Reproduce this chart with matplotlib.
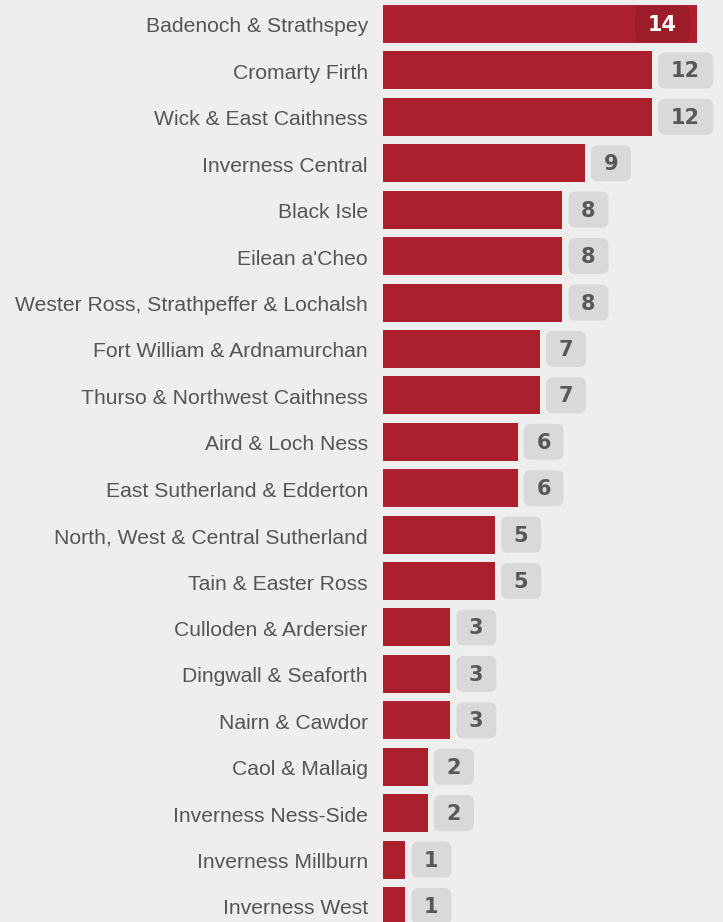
import matplotlib
matplotlib.use("Agg")
import matplotlib.pyplot as plt
from matplotlib.patches import FancyBboxPatch

categories = [
    "Badenoch & Strathspey", "Cromarty Firth", "Wick & East Caithness",
    "Inverness Central", "Black Isle", "Eilean a'Cheo",
    "Wester Ross, Strathpeffer & Lochalsh", "Fort William & Ardnamurchan",
    "Thurso & Northwest Caithness", "Aird & Loch Ness",
    "East Sutherland & Edderton", "North, West & Central Sutherland",
    "Tain & Easter Ross", "Culloden & Ardersier", "Dingwall & Seaforth",
    "Nairn & Cawdor", "Caol & Mallaig", "Inverness Ness-Side",
    "Inverness Millburn", "Inverness West",
]
values = [14, 12, 12, 9, 8, 8, 8, 7, 7, 6, 6, 5, 5, 3, 3, 3, 2, 2, 1, 1]

BG = "#eeeeee"
BAR = "#ac1f2d"
W, H = 723, 922
fig = plt.figure(figsize=(W / 100, H / 100), dpi=100, facecolor=BG)
ax = fig.add_axes([0, 0, 1, 1])
ax.set_facecolor(BG)

x0 = 383.0
pxu = 22.43      # pixels per unit in x
y0 = 24.0
pyu = 46.42      # pixels per row
ax.set_xlim(-x0 / pxu, (W - x0) / pxu)
ax.set_ylim((H - y0) / pyu, -y0 / pyu)
for s in ax.spines.values():
    s.set_visible(False)
ax.set_xticks([])
ax.set_yticks([])

xu = 1 / pxu
yu = 1 / pyu
aspect = yu / xu

ypos = list(range(len(categories)))
ax.barh(ypos, values, height=38 * yu, color=BAR, left=0)

for i, (c, v) in enumerate(zip(categories, values)):
    ax.text(-15 * xu, i + 1 * yu, c, ha="right", va="center_baseline",
            fontsize=15.2, family="Liberation Sans", color="#555555")
    s = str(v)
    bw = (40 if len(s) == 1 else 55) * xu
    bh = 36 * yu
    if v == max(values):
        bx = v - 7 * xu - bw
        fc, tc = "#9d1c29", "white"
    else:
        bx = v + 6 * xu
        fc, tc = "#d9d9d9", "#585858"
    p = FancyBboxPatch((bx, i - bh / 2), bw, bh,
                       boxstyle=f"round,pad=0,rounding_size={7 * xu}",
                       mutation_aspect=aspect, fc=fc, ec="none")
    ax.add_patch(p)
    ax.text(bx + bw / 2, i + 1 * yu, s, ha="center", va="center",
            fontsize=15, fontweight="bold", family="DejaVu Sans", color=tc)

fig.savefig("out.png", dpi=100, facecolor=BG)
